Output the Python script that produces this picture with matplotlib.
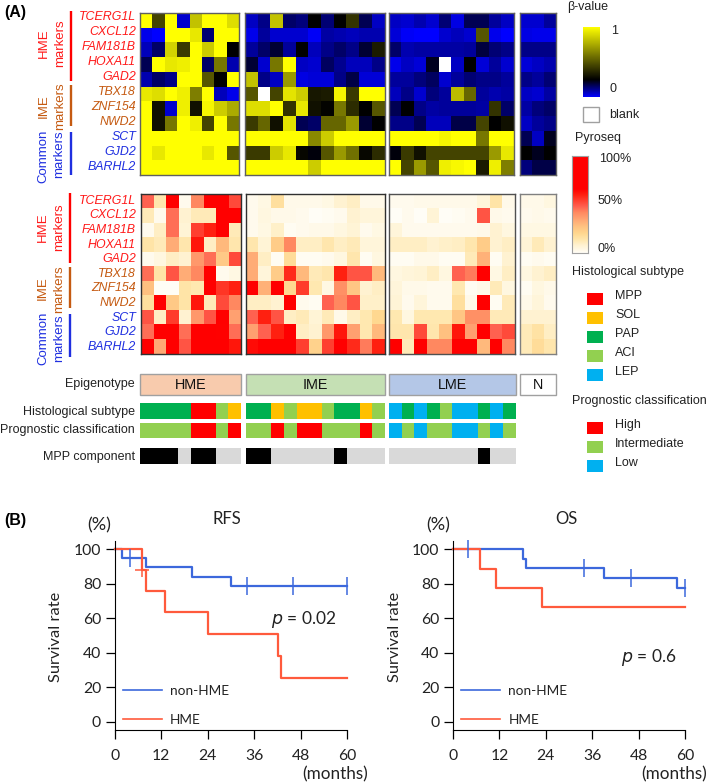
import numpy as np
import matplotlib
matplotlib.use("Agg")
import matplotlib.pyplot as plt
from matplotlib.colors import LinearSegmentedColormap, ListedColormap
from matplotlib.patches import Rectangle
from matplotlib.lines import Line2D

plt.rcParams['font.family'] = ['Liberation Sans', 'DejaVu Sans']
N_ = np.nan
W, H = 709, 784

genes = ["TCERG1L", "CXCL12", "FAM181B", "HOXA11", "GAD2", "TBX18", "ZNF154", "NWD2", "SCT", "GJD2", "BARHL2"]
gene_colors = ["#ff1a1a"] * 5 + ["#c55a11"] * 3 + ["#1f2fe0"] * 3

beta_hme = [
    [1, .45, 1, .05, .82, 1, 1, .9],
    [.02, 0, 1, 1, .93, .14, 1, 1],
    [.07, .15, .87, .42, 1, .85, 1, .25],
    [.17, 1, .93, .95, 1, .15, .6, .08],
    [.08, .15, .12, 1, 1, .5, .25, 1],
    [.93, .9, 1, .95, .62, 1, .07, .02],
    [1, .3, .05, .95, .3, .97, .85, .75],
    [1, .3, .6, 1, .95, .45, 1, .6],
    [1, 1, 1, 1, 1, 1, 1, 1],
    [1, .93, 1, 1, 1, .93, 1, .5],
    [1, 1, 1, 1, 1, 1, 1, 1]]
beta_ime = [
    [.06, .12, .82, .15, .13, .25, .14, .25, .4, .17, .06],
    [.02, .1, .05, .05, .05, .01, .09, .08, .07, .08, .08],
    [.1, .15, .2, .1, .25, .07, .12, .15, .12, .2, .33],
    [.2, .05, .6, 1, .06, .05, .16, .11, .07, .07, .12],
    [.82, .12, .06, .7, .03, .04, .04, .12, .18, .04, .04],
    [.5, N_, .45, .92, .85, .32, .33, .97, .42, 1, 1],
    [.9, .9, 1, .4, .93, .3, .26, .6, .38, .25, .5],
    [.42, .55, .3, .92, .17, .15, .55, .55, .7, .2, .25],
    [1, 1, 1, 1, 1, .65, .85, 1, 1, 1, 1],
    [.42, .42, .85, .93, .27, .24, .5, .7, .58, .27, .38],
    [1, 1, 1, 1, 1, .85, 1, 1, 1, 1, 1]]
beta_lme = [
    [.06, .05, .08, .05, .14, .03, .17, .17, .1, .06],
    [.04, .01, 0, 0, .05, .07, .05, .5, .02, 0],
    [.15, .08, .09, .09, .09, .09, .1, .19, .14, .12],
    [.02, .06, .04, .22, N_, .06, .25, .04, .1, .05],
    [.1, .1, .13, .16, .05, .1, .14, .12, .12, .1],
    [.07, .12, .05, .13, .1, .8, .55, .1, .08, .09],
    [.17, .25, .12, .09, .1, .1, .1, .09, .4, .15],
    [.12, .12, .17, .07, .07, .18, .18, .45, .25, .3],
    [1, 1, 1, 1, .97, 1, 1, .6, 1, 1],
    [.24, .42, .3, .45, .45, .45, .45, .45, .7, .93],
    [1, .45, .7, .5, .95, .98, 1, .33, .95, .62]]
beta_n = [
    [.05, .05, .1], [.03, .02, .02], [.12, .12, .12], [.04, .06, .08],
    [.12, .1, .14], [.06, .05, .09], [.09, .13, .15], [.06, .1, .12],
    [.17, .06, .22], [.25, .22, .25], [.13, .18, .18]]

pyro_hme = [
    [.48, .14, .7, .02, .42, .7, .7, .52],
    [.12, .02, .46, .08, .12, .12, .7, .7],
    [.02, .1, .46, .07, .54, .6, .7, .12],
    [.15, .12, .33, .14, .62, .1, .3, .14],
    [.02, .05, .1, .08, .38, .46, .25, .52],
    [.46, .15, .5, .33, .42, .7, .02, .04],
    [.28, 0, 0, .15, .13, .7, .56, .6],
    [.17, .7, .25, .15, .62, .12, .52, .42],
    [.5, .1, .55, .08, .38, .5, .7, .36],
    [.46, .7, .7, .46, .7, .7, .66, .46],
    [.7, .34, .7, .5, .7, .7, .68, .62]]
pyro_ime = [
    [.02, .04, .17, .03, .03, .03, .04, .08, .1, .03, .03],
    [.02, .05, .03, .03, .02, 0, .01, .02, .08, .06, .06],
    [.02, .04, .09, .01, .02, .03, .03, .05, .07, .02, .04],
    [.14, .07, .24, .42, .1, .1, .14, .1, .12, .06, .06],
    [.33, .1, .01, .18, .01, .01, .02, .05, .14, .01, .05],
    [.33, .06, .24, .58, .3, .12, .14, .6, .5, .5, .3],
    [.7, .32, .7, .2, .55, .13, .04, .4, .26, .08, .1],
    [.1, .1, .08, .7, .02, .01, .48, .42, .5, .09, .09],
    [.48, .6, .5, .1, .12, .07, .12, .03, .1, .13, .2],
    [.36, .48, .6, .7, .1, .08, .38, .62, .36, .13, .3],
    [.64, .7, .7, .7, .54, .22, .54, .7, .58, .44, .6]]
pyro_lme = [
    [.02, .02, .03, .03, .03, .03, .03, .06, .15, .03],
    [0, .02, 0, .07, 0, .01, .02, .5, .03, .02],
    [.06, .02, .02, .02, .02, .02, .02, .03, .08, .05],
    [.1, .1, .1, .08, .09, .1, .14, .24, .08, .1],
    [.01, .01, .03, .03, .01, .01, .12, .32, .01, .08],
    [.05, .06, .07, .1, .05, .48, .44, .68, .04, .1],
    [.06, .03, .03, .02, .02, .13, .01, .03, .12, .05],
    [.07, .02, .06, .02, .02, .17, .03, .7, .01, .12],
    [.13, .05, .13, .13, .13, .26, .4, .4, .12, .12],
    [.14, .14, .52, .14, .28, .62, .36, .7, .48, .52],
    [.7, .12, .68, .42, .42, .7, .7, .3, .7, .42]]
pyro_n = [
    [.03, .03, .05], [.02, .03, .02], [.04, .04, .04], [.07, .12, .08],
    [.01, .02, .01], [.05, .08, .1], [.01, .05, .03], [.03, .06, .02],
    [.08, .08, .08], [.12, .16, .1], [.12, .18, .14]]

hist_colors = {"MPP": "#ff0000", "SOL": "#ffc000", "PAP": "#00b050", "ACI": "#92d050", "LEP": "#00b0f0"}
prog_colors = {"High": "#ff0000", "Intermediate": "#92d050", "Low": "#00b0f0"}
mpp_colors = {"yes": "#000000", "no": "#d9d9d9"}

hist_hme = ["PAP"] * 4 + ["MPP"] * 2 + ["ACI", "SOL"]
hist_ime = ["PAP"] * 2 + ["SOL", "ACI"] + ["SOL"] * 2 + ["ACI"] + ["PAP"] * 2 + ["SOL", "ACI"]
hist_lme = ["LEP", "PAP", "LEP", "PAP", "ACI", "LEP", "LEP", "PAP", "LEP", "PAP"]
prog_hme = ["Intermediate"] * 4 + ["High"] * 2 + ["Intermediate", "High"]
prog_ime = ["Intermediate"] * 2 + ["High", "Intermediate"] + ["High"] * 2 + ["Intermediate"] * 3 + ["High", "Intermediate"]
prog_lme = ["Low", "Intermediate", "Low", "Intermediate", "Intermediate", "Low", "Low", "Intermediate", "Low", "Intermediate"]
mpp_hme = ["yes"] * 3 + ["no"] + ["yes"] * 2 + ["no"] * 2
mpp_ime = ["yes"] * 2 + ["no"] * 5 + ["yes"] + ["no"] * 3
mpp_lme = ["no"] * 7 + ["yes"] + ["no"] * 2

rfs_non_t = [0, 2, 8, 20, 30, 60]
rfs_non_s = [100, 94.7, 89.5, 84.2, 79, 79]
rfs_hme_t = [0, 7, 8, 13, 24, 42, 43, 60]
rfs_hme_s = [100, 88, 76, 63.5, 50.8, 38, 25.4, 25.4]
rfs_non_cens_t = [4, 34, 46, 60]
rfs_non_cens_s = [94.7, 79, 79, 79]
rfs_hme_cens_t = [7]
rfs_hme_cens_s = [88]
os_non_t = [0, 18, 19, 39, 58, 60]
os_non_s = [100, 94.5, 89, 83.5, 77.8, 77.8]
os_hme_t = [0, 7, 11, 23, 60]
os_hme_s = [100, 88.5, 77.5, 66.5, 66.5]
os_non_cens_t = [4, 34, 46, 60]
os_non_cens_s = [100, 89, 83.5, 77.8]

BLUE, RED = "#3c68dc", "#ff5a3c"

beta_cmap = LinearSegmentedColormap.from_list("beta", [(0, "#0000ff"), (.25, "#000000"), (1, "#ffff00")])
beta_cmap.set_bad("white")
pyro_cmap = LinearSegmentedColormap.from_list("pyro", [
    (0, "#fffdf6"), (.08, "#fff2d0"), (.13, "#ffe8b0"), (.2, "#ffd890"), (.28, "#ffc080"),
    (.36, "#ffa070"), (.42, "#ff8860"), (.48, "#ff6050"), (.54, "#ff4030"), (.6, "#ff2010"),
    (.66, "#ff0000"), (1, "#ff0000")])

fig = plt.figure(figsize=(W / 100, H / 100), dpi=100)


def axpx(l, t, r, b, **kw):
    return fig.add_axes([l / W, 1 - b / H, (r - l) / W, (b - t) / H], **kw)


ov = axpx(0, 0, W, H)
ov.set_xlim(0, W)
ov.set_ylim(H, 0)
ov.axis("off")


def T(x, y, s, size=9, ha="left", va="center", **kw):
    ov.text(x, y, s, fontsize=size, ha=ha, va=va, **kw)


def heat(box, vals, cmap, edge):
    ax = axpx(*box)
    arr = np.array(vals, dtype=float)
    ax.pcolormesh(np.ma.masked_invalid(arr), cmap=cmap, vmin=0, vmax=1)
    ax.invert_yaxis()
    ax.set_xticks([])
    ax.set_yticks([])
    for s in ax.spines.values():
        s.set_color(edge)
        s.set_linewidth(1.0)


heat((140, 13, 239.3, 175), beta_hme, beta_cmap, "#606060")
heat((245, 13, 384.5, 175), beta_ime, beta_cmap, "#606060")
heat((388.5, 13, 514, 175), beta_lme, beta_cmap, "#606060")
heat((519.5, 13, 555.7, 175), beta_n, beta_cmap, "#606060")
heat((141, 193.5, 241, 353.5), pyro_hme, pyro_cmap, "#303030")
heat((245.7, 193.5, 385, 353.5), pyro_ime, pyro_cmap, "#303030")
heat((389, 193.5, 515, 353.5), pyro_lme, pyro_cmap, "#505050")
heat((520, 193.5, 556, 353.5), pyro_n, pyro_cmap, "#808080")

# gene labels and marker groups
for top, step in ((17, 15.0), (200.7, 14.6)):
    for i, (g, c) in enumerate(zip(genes, gene_colors)):
        T(136, top + step * i, g, ha="right", color=c, style="italic", size=8.9)

for xb, segs, labs in (
    (71, [(11, 81, "#ff0000"), (85, 126, "#c55a11"), (132, 175, "#1f2fe0")],
     [(44, 43, "HME", "#ff1a1a"), (60, 43, "markers", "#ff1a1a"), (44, 106, "IME", "#c55a11"), (60, 106, "markers", "#c55a11"),
      (43, 156, "Common", "#1f2fe0"), (59, 154, "markers", "#1f2fe0")]),
    (70, [(193, 263, "#ff0000"), (267, 308, "#c55a11"), (314, 357, "#1f2fe0")],
     [(43, 227, "HME", "#ff1a1a"), (59, 227, "markers", "#ff1a1a"), (43, 288, "IME", "#c55a11"), (59, 289, "markers", "#c55a11"),
      (43, 338, "Common", "#1f2fe0"), (59, 338, "markers", "#1f2fe0")])):
    for y0, y1, c in segs:
        ov.plot([xb, xb], [y0, y1], color=c, lw=1.7, solid_capstyle="butt")
    for x, y, s, c in labs:
        T(x, y, s, ha="center", rotation=90, color=c, size=9.5)

T(4, 12, "(A)", size=11.5, weight="bold")
T(4, 521, "(B)", size=11.5, weight="bold")

# annotation strips
for (l, r, s, fc, ec) in ((140, 241, "HME", "#f8cbad", "#a0a0a0"), (245.6, 385, "IME", "#c5e0b4", "#a0a0a0"),
                          (389, 515.5, "LME", "#b4c7e7", "#a0a0a0"), (519.5, 556, "N", "#ffffff", "#a0a0a0")):
    ov.add_patch(Rectangle((l, 373.5), r - l, 21, fc=fc, ec=ec, lw=1))
    T((l + r) / 2, 384.5, s, ha="center", size=10.4, color="#111111")


def strip(top, bottom, groups, colors):
    for (l, r), cats in zip(((140, 241), (246, 385), (389, 515.5)), groups):
        ax = axpx(l, top, r, bottom)
        names = list(colors)
        idx = np.array([[names.index(c) for c in cats]])
        ax.pcolormesh(idx, cmap=ListedColormap([colors[n] for n in names]), vmin=-.5, vmax=len(names) - .5)
        ax.axis("off")


strip(403, 419, (hist_hme, hist_ime, hist_lme), hist_colors)
strip(422.5, 438, (prog_hme, prog_ime, prog_lme), prog_colors)
strip(448, 464, (mpp_hme, mpp_ime, mpp_lme), mpp_colors)
T(135, 383.5, "Epigenotype", ha="right", color="#222222")
T(135, 411.5, "Histological subtype", ha="right", color="#222222")
T(135, 430, "Prognostic classification", ha="right", color="#222222")
T(135, 456.5, "MPP component", ha="right", color="#222222")

# right-hand legends
T(567, 7, "β-value", color="#222222")
cb = axpx(582.7, 27, 599, 97)
cb.imshow(np.linspace(1, 0, 256)[:, None], cmap=beta_cmap, vmin=0, vmax=1, aspect="auto")
cb.axis("off")
T(611, 31, "1", color="#222222")
T(610, 89, "0", color="#222222")
ov.add_patch(Rectangle((582.5, 107), 16.5, 15, fc="white", ec="#a0a0a0", lw=1))
T(609, 115, "blank", color="#222222")
T(575, 138, "Pyroseq", color="#222222")
cb2 = axpx(572, 156, 588, 253)
cb2.imshow(np.linspace(1, 0, 256)[:, None], cmap=pyro_cmap, vmin=0, vmax=1, aspect="auto")
for s in cb2.spines.values():
    s.set_color("#a0a0a0")
cb2.set_xticks([])
cb2.set_yticks([])
T(599, 159, "100%", color="#222222")
T(598, 201, "50%", color="#222222")
T(598, 249, "0%", color="#222222")
T(572, 272, "Histological subtype", color="#222222")
for (name, c), y in zip(hist_colors.items(), (293, 312, 331, 350, 369)):
    ov.add_patch(Rectangle((587, y), 16, 12, fc=c, ec="none"))
    T(615, y + 3, name, color="#222222")
T(572, 401, "Prognostic classification", color="#222222")
for (name, c), y in zip(prog_colors.items(), (422, 441, 460)):
    ov.add_patch(Rectangle((587, y), 16, 12, fc=c, ec="none"))
    T(615, y + 3, name, color="#222222")

# survival panels
LATO = ["Lato", "DejaVu Sans"]


def survival(box, non, hme, cens, hcens=None):
    ax = axpx(*box)
    ax.set_xlim(0, 60)
    ax.set_ylim(-5, 105)
    ax.patch.set_alpha(0)
    ax.step(non[0], non[1], where="post", color=BLUE, lw=1.6, clip_on=False)
    ax.step(hme[0], hme[1], where="post", color=RED, lw=1.6, clip_on=False)
    ax.plot(cens[0], cens[1], ls="none", marker="|", ms=12.5, mew=1.1, color=BLUE, clip_on=False)
    if hcens:
        ax.plot(hcens[0], hcens[1], ls="none", marker="+", ms=10, mew=1.1, color=RED, clip_on=False)
    ax.spines[["top", "right"]].set_visible(False)
    ax.set_xticks(range(0, 61, 12))
    ax.set_yticks(range(0, 101, 20))
    ax.tick_params(length=6.3, width=0.9, labelsize=11.3, labelcolor="#222222")
    ax.tick_params(axis="x", pad=7)
    ax.tick_params(axis="y", pad=3.5)
    for lab in ax.get_xticklabels() + ax.get_yticklabels():
        lab.set_family(LATO)
    handles = [Line2D([], [], color=BLUE, lw=1.2), Line2D([], [], color=RED, lw=1.2)]
    ax.legend(handles, ["non-HME", "HME"], loc="lower left", bbox_to_anchor=(0.036, 0.024), frameon=False,
              prop={"family": LATO, "size": 9.8}, handlelength=2.85, labelspacing=1.22, handletextpad=0.6,
              borderpad=0, borderaxespad=0, labelcolor="#222222")
    return ax


survival((114.7, 540.7, 347.3, 730.3), (rfs_non_t, rfs_non_s), (rfs_hme_t, rfs_hme_s),
         (rfs_non_cens_t, rfs_non_cens_s), (rfs_hme_cens_t, rfs_hme_cens_s))
survival((453, 540.7, 685, 730.3), (os_non_t, os_non_s), (os_hme_t, os_hme_s),
         (os_non_cens_t, os_non_cens_s))

for x, s in ((227, "RFS"), (566, "OS")):
    T(x, 519, s, ha="center", size=12, family=LATO, color="#222222")
for x in (99, 438):
    T(x, 525, "(%)", ha="center", size=13, family=LATO, color="#222222")
for x in (56, 395):
    T(x, 637, "Survival rate", ha="center", rotation=90, size=11.8, family=LATO, color="#222222")
T(368, 774, "(months)", ha="right", size=12.3, family=LATO, color="#222222")
T(707, 774, "(months)", ha="right", size=12.3, family=LATO, color="#222222")
T(271, 619, "$\\mathit{p}$ = 0.02", size=12.5, family=LATO, color="#222222")
T(621, 657, "$\\mathit{p}$ = 0.6", size=12.5, family=LATO, color="#222222")

fig.savefig("out.png", dpi=100)
